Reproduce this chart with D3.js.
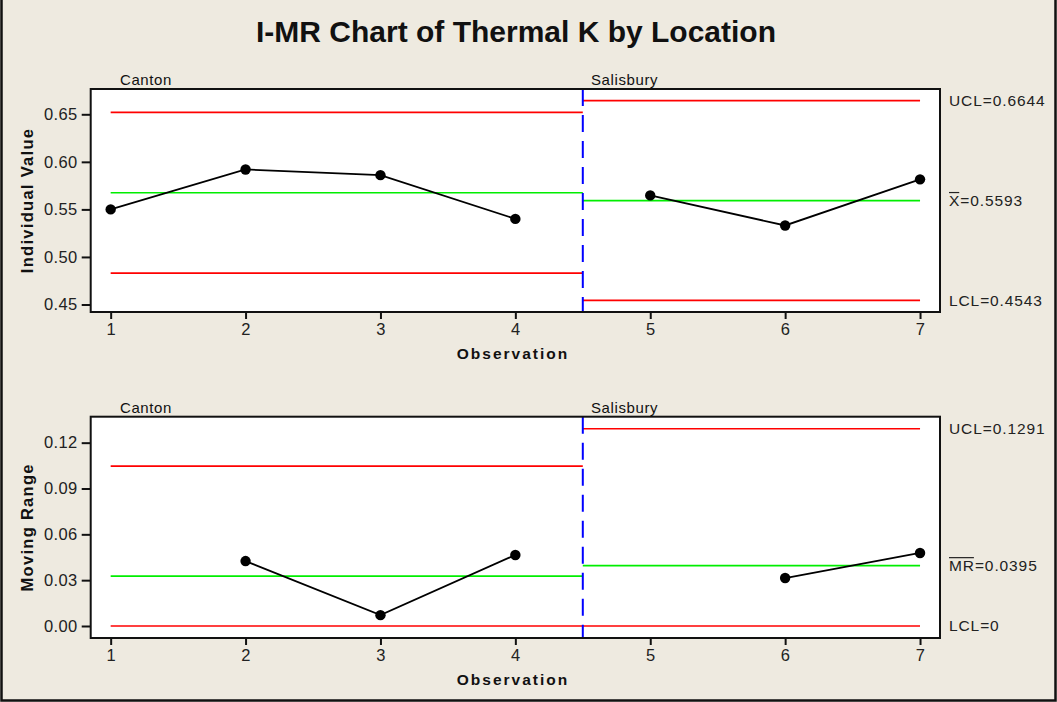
<!DOCTYPE html>
<html>
<head>
<meta charset="utf-8">
<script src="https://cdn.jsdelivr.net/npm/d3@7"></script>
<style>
  html, body { margin: 0; padding: 0; background: #eeeae0; }
  svg { display: block; }
</style>
</head>
<body>
<svg id="chart" width="1057" height="702"></svg>
<script>
// ── Data ─────────────────────────────────────────────
const observations = [1, 2, 3, 4, 5, 6, 7];
const stages       = ['Canton', 'Salisbury'];
const stageStart   = [1, 5];
const stageEnd     = [4, 7];

const individual   = [0.550, 0.592, 0.586, 0.540, 0.5647, 0.5331, 0.5816];
const movingRange  = [null, 0.0425, 0.0071, 0.0465, null, 0.0314, 0.0478];

const iUCL = [0.6520, 0.6644];
const iCL  = [0.5675, 0.5593];
const iLCL = [0.4830, 0.4543];

const mrUCL = [0.1047, 0.1291];
const mrCL  = [0.0327, 0.0395];
const mrLCL = [0, 0];

const iTicks  = [0.45, 0.50, 0.55, 0.60, 0.65];
const mrTicks = [0.00, 0.03, 0.06, 0.09, 0.12];

const iLabels  = ['UCL=0.6644', 'X=0.5593', 'LCL=0.4543'];
const mrLabels = ['UCL=0.1291', 'MR=0.0395', 'LCL=0'];

// ── Layout ───────────────────────────────────────────
const FONT = 'Liberation Sans, Arial, sans-serif';
const svg = d3.select('#chart');

// frame (left, right, bottom)
svg.append('path')
  .attr('d', 'M1.5,0 V700.5 H1055.5 V0')
  .attr('fill', 'none').attr('stroke', '#111').attr('stroke-width', 2.5);

svg.append('text')
  .attr('x', 516).attr('y', 42)
  .attr('text-anchor', 'middle')
  .attr('font-family', FONT).attr('font-weight', 'bold').attr('font-size', 30)
  .attr('fill', '#111')
  .text('I-MR Chart of Thermal K by Location');

const x = d3.scaleLinear().domain([0.852, 7.148]).range([90.7, 940]);

function panel(opts) {
  const { top, bottom, domain, ticks, fmt, values, ucl, cl, lcl, labels, yTitle, labelVals, barIdx } = opts;
  const y = d3.scaleLinear().domain(domain).range([bottom, top]);
  const g = svg.append('g');

  g.append('rect')
    .attr('x', 90.7).attr('y', top)
    .attr('width', 940 - 90.7).attr('height', bottom - top)
    .attr('fill', '#fff');

  // control limit lines per stage
  stages.forEach((s, i) => {
    const x0 = i === 0 ? x(stageStart[i]) : x(4.5);
    const x1 = i === 0 ? x(4.5) : x(stageEnd[i]);
    [[ucl[i], '#ff0000'], [cl[i], '#00ee00'], [lcl[i], '#ff0000']].forEach(([v, c]) => {
      g.append('line')
        .attr('x1', x0).attr('x2', x1)
        .attr('y1', y(v)).attr('y2', y(v))
        .attr('stroke', c).attr('stroke-width', 1.7);
    });
    // stage label
    g.append('text')
      .attr('x', i === 0 ? 120 : 591).attr('y', top - 4)
      .attr('font-family', FONT).attr('font-size', 15).attr('fill', '#111')
      .attr('letter-spacing', 0.6)
      .text(s);
  });

  // stage divider
  g.append('line')
    .attr('x1', x(4.5)).attr('x2', x(4.5))
    .attr('y1', top).attr('y2', bottom)
    .attr('stroke', '#0000ff').attr('stroke-width', 2)
    .attr('stroke-dasharray', '17,9');

  // data lines, per stage
  stages.forEach((s, i) => {
    const pts = observations
      .map((o, k) => ({ o, v: values[k] }))
      .filter(d => d.o >= stageStart[i] && d.o <= stageEnd[i] && d.v != null);
    g.append('path')
      .datum(pts)
      .attr('fill', 'none').attr('stroke', '#000').attr('stroke-width', 1.8)
      .attr('d', d3.line().x(d => x(d.o)).y(d => y(d.v)));
    g.selectAll(null).data(pts).join('circle')
      .attr('cx', d => x(d.o)).attr('cy', d => y(d.v))
      .attr('r', 5.2).attr('fill', '#000');
  });

  // border
  g.append('rect')
    .attr('x', 90.7).attr('y', top)
    .attr('width', 940 - 90.7).attr('height', bottom - top)
    .attr('fill', 'none').attr('stroke', '#111').attr('stroke-width', 2);

  // axes
  const axStyle = sel => sel
    .call(a => a.select('.domain').remove())
    .call(a => a.selectAll('line').attr('stroke', '#111').attr('stroke-width', 2))
    .call(a => a.selectAll('text').attr('fill', '#222').attr('font-size', 16.5)
      .attr('font-family', FONT).attr('letter-spacing', 0.4));

  g.append('g')
    .attr('transform', `translate(90.7,0)`)
    .call(d3.axisLeft(y).tickValues(ticks).tickFormat(fmt).tickSize(9).tickPadding(4))
    .call(axStyle);

  g.append('g')
    .attr('transform', `translate(0,${bottom})`)
    .call(d3.axisBottom(x).tickValues(observations).tickFormat(d3.format('d')).tickSize(7).tickPadding(4))
    .call(axStyle);

  g.append('text')
    .attr('transform', `translate(33,${(top + bottom) / 2}) rotate(-90)`)
    .attr('text-anchor', 'middle')
    .attr('font-family', FONT).attr('font-weight', 'bold').attr('font-size', 16.5)
    .attr('letter-spacing', 1.3).attr('fill', '#111')
    .text(yTitle);

  g.append('text')
    .attr('x', 513).attr('y', bottom + 47)
    .attr('text-anchor', 'middle')
    .attr('font-family', FONT).attr('font-weight', 'bold').attr('font-size', 15.5)
    .attr('letter-spacing', 2.0).attr('fill', '#111')
    .text('Observation');

  // right-side limit labels (Salisbury stage values)
  labels.forEach((t, k) => {
    g.append('text')
      .attr('x', 949).attr('y', y(labelVals[k]) + 5.5)
      .attr('font-family', FONT).attr('font-size', 15.5)
      .attr('letter-spacing', 0.9).attr('fill', '#222')
      .text(t);
    if (k === 1) {
      // bar over X / MR
      const probe = g.append('text')
        .attr('font-family', FONT).attr('font-size', 15.5).attr('letter-spacing', 0.9)
        .text(t.slice(0, barIdx));
      const w = probe.node().getComputedTextLength() - 1;
      probe.remove();
      g.append('line')
        .attr('x1', 949).attr('x2', 949 + w)
        .attr('y1', y(labelVals[k]) - 8).attr('y2', y(labelVals[k]) - 8)
        .attr('stroke', '#222').attr('stroke-width', 1.2);
    }
  });

  return y;
}

panel({
  top: 89, bottom: 312,
  domain: [0.4421, 0.6766],
  ticks: iTicks, fmt: d3.format('.2f'),
  values: individual,
  ucl: iUCL, cl: iCL, lcl: iLCL,
  labels: iLabels, labelVals: [iUCL[1], iCL[1], iLCL[1]], barIdx: 1,
  yTitle: 'Individual Value'
});

panel({
  top: 416.7, bottom: 638,
  domain: [-0.00786, 0.137],
  ticks: mrTicks, fmt: d3.format('.2f'),
  values: movingRange,
  ucl: mrUCL, cl: mrCL, lcl: mrLCL,
  labels: mrLabels, labelVals: [mrUCL[1], mrCL[1], mrLCL[1]], barIdx: 2,
  yTitle: 'Moving Range'
});
</script>
</body>
</html>
